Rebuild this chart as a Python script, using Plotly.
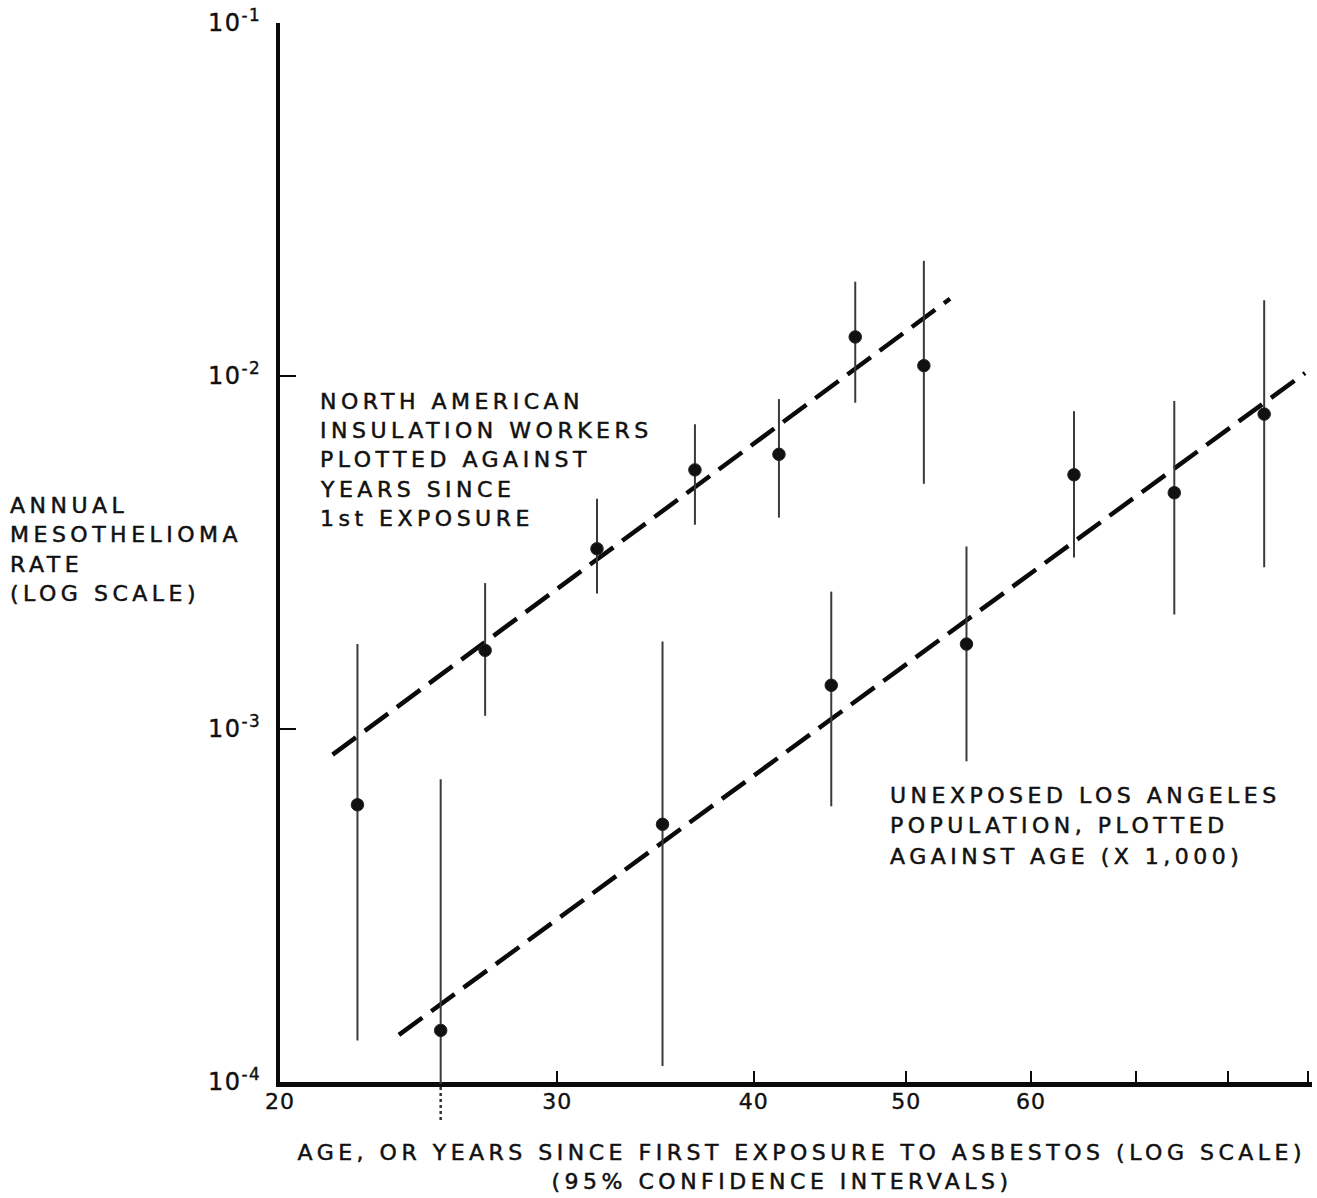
import math
import plotly.graph_objects as go

# ---------------- data ----------------
# North American insulation workers (x = years since 1st exposure)
wk_x = [22.4, 27.0, 31.8, 36.7, 41.5, 46.4, 51.3]
wk_y = [6.1e-4, 1.67e-3, 3.24e-3, 5.42e-3, 6.0e-3, 1.29e-2, 1.07e-2]
wk_hi = [1.74e-3, 2.59e-3, 4.49e-3, 7.3e-3, 8.6e-3, 1.85e-2, 2.12e-2]
wk_lo = [1.31e-4, 1.09e-3, 2.42e-3, 3.79e-3, 3.97e-3, 8.4e-3, 4.95e-3]
wk_fit_x = [21.6, 53.3]
wk_fit_y = [8.46e-4, 1.655e-2]

# Unexposed Los Angeles population (x = age, rate x 1,000)
la_x = [25.3, 35.0, 44.8, 54.6, 63.9, 74.0, 84.4]
la_y = [1.40e-4, 5.37e-4, 1.33e-3, 1.74e-3, 5.25e-3, 4.67e-3, 7.8e-3]
la_hi = [7.2e-4, 1.77e-3, 2.45e-3, 3.29e-3, 7.95e-3, 8.5e-3, 1.64e-2]
la_lo = [7.8e-5, 1.11e-4, 6.04e-4, 8.1e-4, 3.06e-3, 2.11e-3, 2.87e-3]
la_fit_x = [23.8, 89.6]
la_fit_y = [1.36e-4, 1.02e-2]

x_tickvals = [20, 30, 40, 50, 60]
x_ticktext = ["20", "30", "40", "50", "60"]
x_minor_ticks = [70, 80, 90]
y_tickvals = [1e-4, 1e-3, 1e-2, 1e-1]
y_ticktext = ["10<sup>-4</sup>", "10<sup>-3</sup>", "10<sup>-2</sup>", "10<sup>-1</sup>"]

workers_label = ["NORTH AMERICAN", "INSULATION WORKERS", "PLOTTED AGAINST",
                 "YEARS SINCE", "1st EXPOSURE"]
la_label = ["UNEXPOSED LOS ANGELES", "POPULATION, PLOTTED", "AGAINST AGE (X 1,000)"]
y_title = ["ANNUAL", "MESOTHELIOMA", "RATE", "(LOG SCALE)"]
x_title = ["AGE, OR YEARS SINCE FIRST EXPOSURE TO ASBESTOS (LOG SCALE)",
           "(95% CONFIDENCE INTERVALS)"]

# ---------------- layout geometry ----------------
W, H = 1317, 1198
ML, MR, MT, MB = 280, 5, 18, 116
PW, PH = W - ML - MR, H - MT - MB
PX_PER_DECADE = 1573.9

FONT = "DejaVu Sans"
INK = "#111111"
TXT = 22


def paper_x(px):
    return (px - ML) / PW


def paper_y(py):
    return (H - MB - py) / PH


fig = go.Figure()

err_style = dict(type="data", thickness=2, width=0, color="#3a3a3a")
fit_style = dict(color="#0a0a0a", width=4.5, dash="29px,11px")
marker_style = dict(size=12.5, color=INK, line=dict(color="#222", width=1))

fig.add_trace(go.Scatter(
    x=wk_fit_x, y=wk_fit_y, mode="lines", line=fit_style, hoverinfo="skip"))
fig.add_trace(go.Scatter(
    x=la_fit_x, y=la_fit_y, mode="lines", line=fit_style, hoverinfo="skip"))

fig.add_trace(go.Scatter(
    x=wk_x, y=wk_y, mode="markers", marker=marker_style,
    error_y=dict(symmetric=False,
                 array=[h - v for h, v in zip(wk_hi, wk_y)],
                 arrayminus=[v - l for v, l in zip(wk_y, wk_lo)],
                 **err_style)))
fig.add_trace(go.Scatter(
    x=la_x, y=la_y, mode="markers", marker=marker_style,
    error_y=dict(symmetric=False,
                 array=[h - v for h, v in zip(la_hi, la_y)],
                 arrayminus=[v - l for v, l in zip(la_y, la_lo)],
                 **err_style)))

annotations = []


def add_block(lines, x_px, y0_px, pitch):
    for i, t in enumerate(lines):
        annotations.append(dict(
            text=t, xref="paper", yref="paper",
            x=paper_x(x_px), y=paper_y(y0_px + i * pitch),
            xanchor="left", align="left", yanchor="middle", showarrow=False,
            font=dict(family=FONT, size=TXT, color=INK)))


add_block(workers_label, 318, 398, 29.5)
add_block(la_label, 888, 794, 30.5)
add_block(y_title, 8, 503, 29.3)
for t, cx, cy in [(x_title[0], 802, 1153), (x_title[1], 782, 1182)]:
    annotations.append(dict(text=t, xref="paper", yref="paper",
                            x=paper_x(cx), y=paper_y(cy), xanchor="center",
                            align="center", yanchor="middle", showarrow=False,
                            font=dict(family=FONT, size=TXT, color=INK)))

shapes = [dict(type="line", xref="x", yref="paper",
               x0=la_x[0], x1=la_x[0], y0=-0.036, y1=0,
               line=dict(color="#333", width=2.5, dash="dot"))]

x0 = math.log10(20)
fig.update_layout(
    width=W, height=H,
    margin=dict(l=ML, r=MR, t=MT, b=MB, pad=0),
    paper_bgcolor="white", plot_bgcolor="white",
    showlegend=False,
    annotations=annotations,
    shapes=shapes,
    xaxis=dict(type="log", range=[x0, x0 + PW / PX_PER_DECADE],
               showline=True, linewidth=4.5, linecolor="#0a0a0a",
               showgrid=False, zeroline=False,
               ticks="inside", ticklen=11, tickwidth=2, tickcolor="#0a0a0a",
               tickmode="array", tickvals=x_tickvals, ticktext=x_ticktext,
               minor=dict(tickmode="array", tickvals=x_minor_ticks,
                          ticks="inside", ticklen=11, tickwidth=2,
                          tickcolor="#0a0a0a", showgrid=False),
               ticklabelstandoff=-4,
               tickfont=dict(family=FONT, size=22, color=INK)),
    yaxis=dict(type="log", range=[-4, -1],
               showline=True, linewidth=4, linecolor="#0a0a0a",
               showgrid=False, zeroline=False,
               ticks="inside", ticklen=16, tickwidth=2.5, tickcolor="#0a0a0a",
               tickmode="array", tickvals=y_tickvals, ticktext=y_ticktext,
               ticklabelstandoff=10,
               tickfont=dict(family=FONT, size=24, color=INK)),
)

post = ("document.body.style.margin='0';"
        "var st=document.createElement('style');"
        "st.innerHTML='body{margin:0;} "
        ".annotation-text{letter-spacing:4.5px;stroke:#111;stroke-width:0.5px;} "
        ".xtick text{stroke:#111;stroke-width:0.4px;letter-spacing:1px;} "
        ".ytick text{stroke:#111;stroke-width:0.4px;letter-spacing:1.5px;}';"
        "document.head.appendChild(st);")
fig.write_html("out.html", post_script=post,
               config={"displayModeBar": False, "staticPlot": True})
